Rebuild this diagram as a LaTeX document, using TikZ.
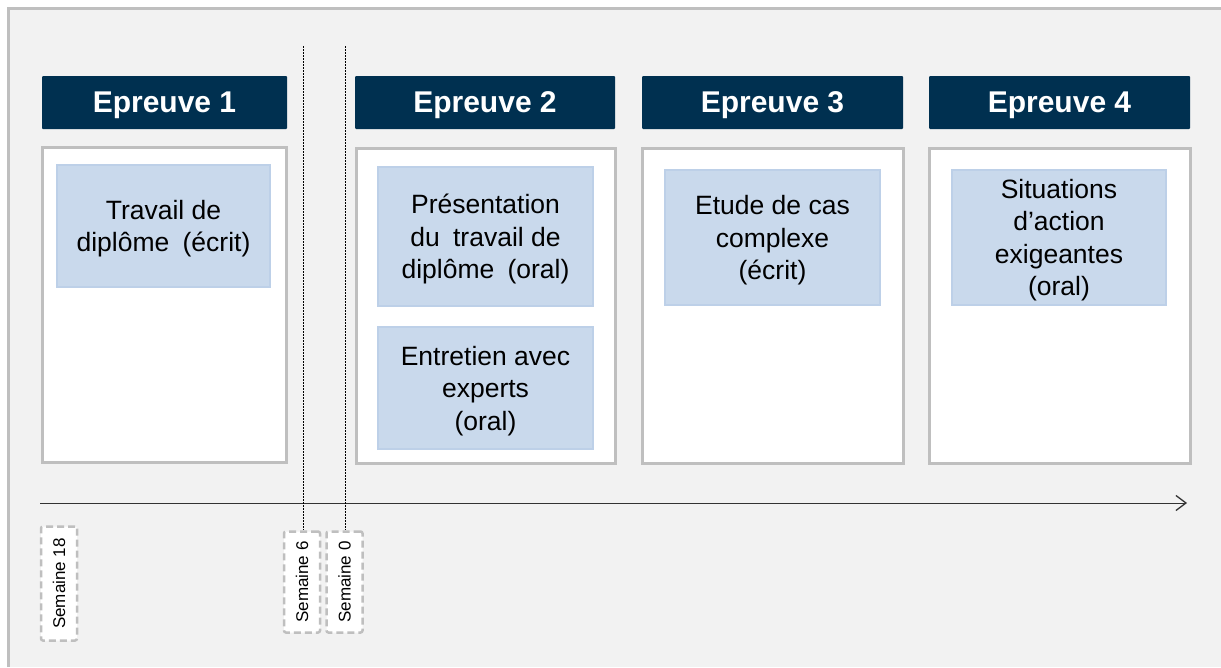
\documentclass[tikz,border=0pt]{standalone}
\usepackage{fontspec}
\setmainfont{Liberation Sans}
\usetikzlibrary{arrows.meta}
\definecolor{navy}{HTML}{003050}
\definecolor{bluebox}{HTML}{C9D9EC}
\definecolor{blueline}{HTML}{BDD0E8}
\definecolor{frame}{HTML}{BFBFBF}
\definecolor{bg}{HTML}{F2F2F2}
\newcommand{\wsp}{\hspace{0.5em}}
\newcommand{\itemlines}[1]{\raisebox{-3pt}[\height][\depth]{\begin{tabular}{@{}c@{}}#1\end{tabular}}}
\tikzset{
  header/.style={fill=navy, text=white, font=\fontsize{30}{32}\selectfont\bfseries, rounded corners=1pt, inner sep=0pt, text depth=0pt},
  panel/.style={fill=white, draw=frame, line width=3pt},
  item/.style={fill=bluebox, draw=blueline, line width=1.5pt, font=\fontsize{26.5}{32.5}\selectfont, inner sep=0pt},
  week/.style={fill=white, draw=frame, dash pattern=on 7pt off 4pt, line width=2.5pt, rounded corners=2pt, inner sep=0pt, font=\fontsize{17}{19}\selectfont},
  guide/.style={dash pattern=on 2pt off 1pt, line width=0.8pt, black},
}
\begin{document}
\begin{tikzpicture}[x=1pt,y=-1pt]
\useasboundingbox (0,0) rectangle (1221,667);
\fill[white] (0,0) rectangle (1221,667);
\fill[bg] (8,8) rectangle (1221,667);
\draw[frame, line width=3pt] (8,667) -- (8,8) -- (1221,8);

% headers
\node[header, minimum width=245pt, minimum height=53pt] (h1) at (164.5,102.5) {Epreuve 1};
\node[header, minimum width=260pt, minimum height=53pt] (h2) at (485,102.5) {Epreuve 2};
\node[header, minimum width=261pt, minimum height=53pt] (h3) at (772.5,102.5) {Epreuve 3};
\node[header, minimum width=261pt, minimum height=53pt] (h4) at (1059.5,102.5) {Epreuve 4};

% panels
\node[panel, minimum width=244pt, minimum height=315pt] (p1) at (164,304.5) {};
\node[panel, minimum width=259pt, minimum height=315pt] (p2) at (485.5,305.5) {};
\node[panel, minimum width=261pt, minimum height=315pt] (p3) at (772.5,305.5) {};
\node[panel, minimum width=261pt, minimum height=315pt] (p4) at (1059.5,305.5) {};

% items
\node[item, minimum width=213pt, minimum height=122pt] (i1) at (163.5,226) {\itemlines{Travail de\\diplôme\wsp(écrit)}};
\node[item, minimum width=215pt, minimum height=139pt] (i2a) at (485.5,236.5) {\itemlines{Présentation\\du\wsp travail de\\diplôme\wsp(oral)}};
\node[item, minimum width=215pt, minimum height=122pt] (i2b) at (485.5,388) {\itemlines{Entretien avec\\experts\\(oral)}};
\node[item, minimum width=215pt, minimum height=135pt] (i3) at (772.5,237.5) {\itemlines{Etude de cas\\complexe\\(écrit)}};
\node[item, minimum width=214pt, minimum height=135pt] (i4) at (1059,237.5) {\itemlines{Situations\\d’action\\exigeantes\\(oral)}};

% timeline
\coordinate (tA) at (40,503);
\coordinate (tB) at (1187,503);
\draw[line width=1pt, black!80, -{Straight Barb[length=10pt,width=15pt,line width=1.3pt]}] (tA) -- (tB);

% week markers
\node[week, minimum width=36pt, minimum height=114pt] (w18) at (59,583.5) {\rotatebox{90}{Semaine 18}};
\node[week, minimum width=36pt, minimum height=101pt] (w6) at (302,582) {\rotatebox{90}{Semaine 6}};
\node[week, minimum width=36pt, minimum height=101pt] (w0) at (344.5,582) {\rotatebox{90}{Semaine 0}};

\coordinate (g6) at (303,46);
\coordinate (g0) at (345,46);
\draw[guide] (g6) -- (g6 |- w6.north);
\draw[guide] (g0) -- (g0 |- w0.north);
\end{tikzpicture}
\end{document}
